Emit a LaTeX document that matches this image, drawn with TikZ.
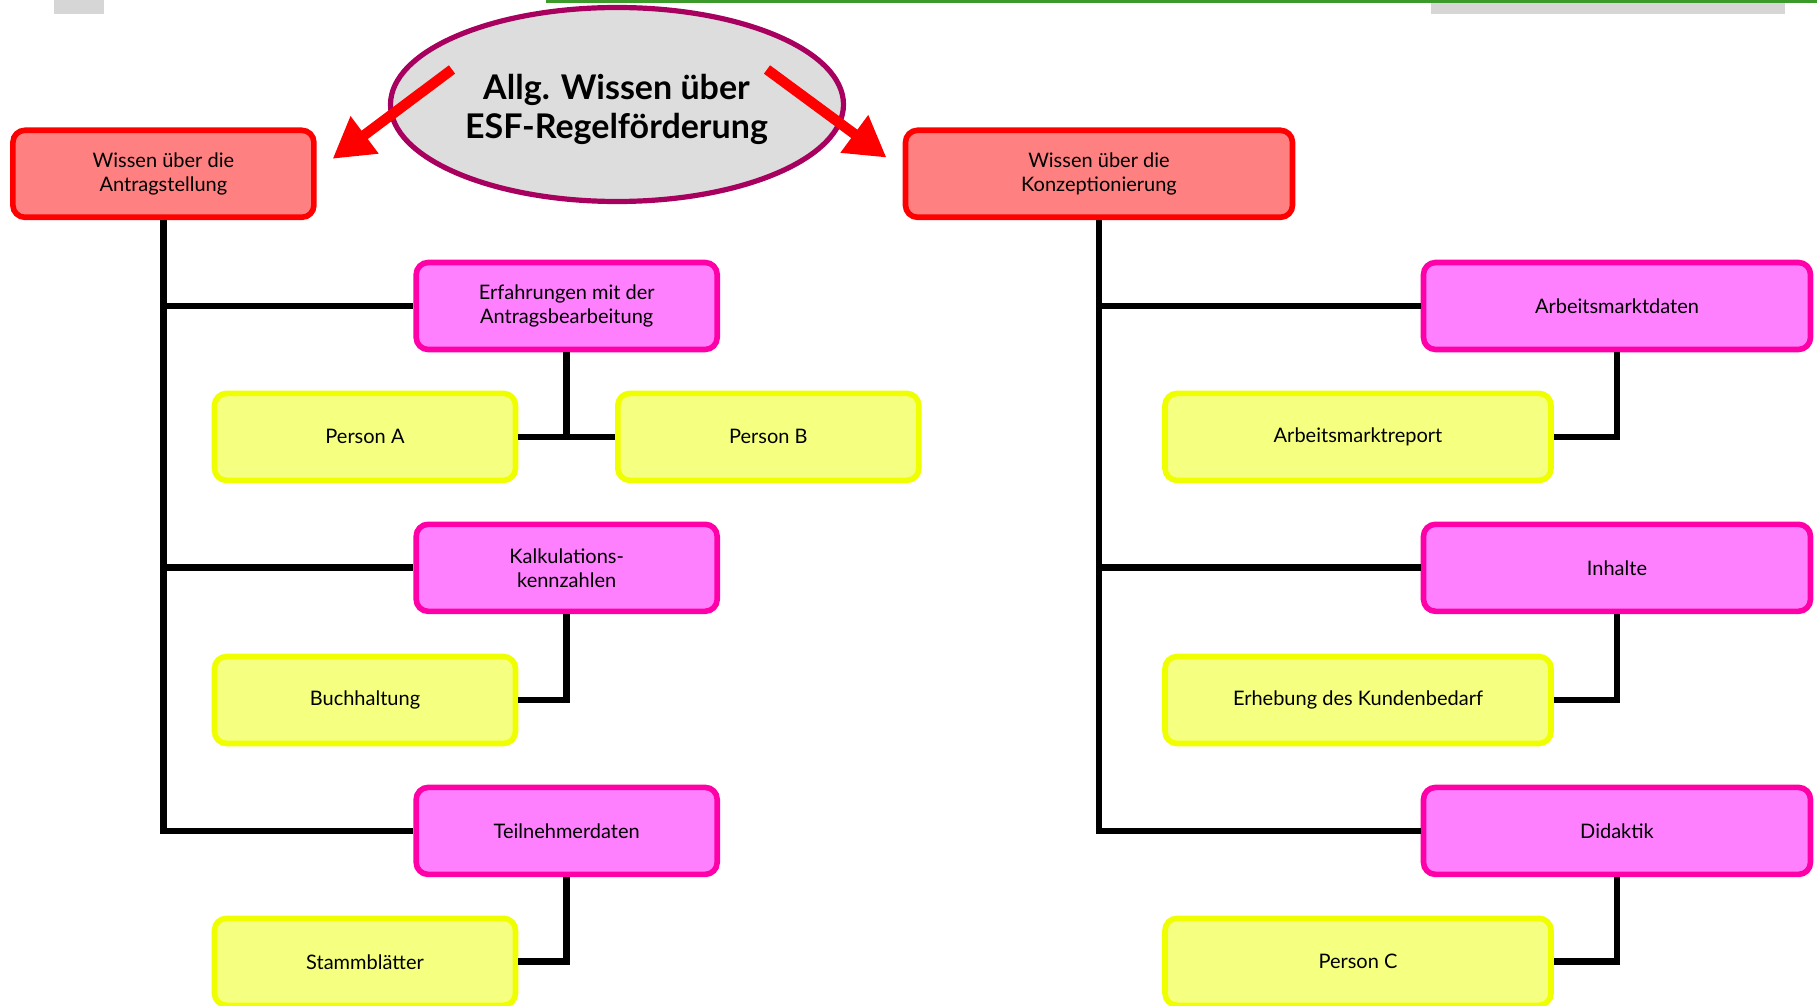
\documentclass[tikz,border=0pt]{standalone}
\usepackage{fontspec}
\setmainfont{Lato}
\usetikzlibrary{arrows.meta,shapes.geometric}
\definecolor{redF}{HTML}{FF8080}
\definecolor{redB}{HTML}{FF0000}
\definecolor{magF}{HTML}{FF80FF}
\definecolor{magB}{HTML}{FF00A8}
\definecolor{yelF}{HTML}{F5FF80}
\definecolor{yelB}{HTML}{F0FF00}
\definecolor{ellF}{HTML}{DDDDDD}
\definecolor{ellB}{HTML}{A8005E}
\definecolor{topgreen}{HTML}{3C9A2A}
\definecolor{topgrey}{HTML}{D6D6D6}
\tikzset{
  box/.style={draw, rounded corners=6pt, line width=2.8pt, align=center,
    font=\fontsize{10}{12}\selectfont, inner sep=2pt, minimum height=43.5pt},
  redbox/.style={box, draw=redB, fill=redF},
  magbox/.style={box, draw=magB, fill=magF},
  yelbox/.style={box, draw=yelB, fill=yelF},
  conn/.style={line width=3.4pt, black},
  bigarrow/.style={line width=5.2pt, redB, -{Triangle[length=20pt,width=22pt]}},
}
\begin{document}
\begin{tikzpicture}[x=0.5pt,y=-0.5pt]
\useasboundingbox (0,0) rectangle (1817,1006);
% top decorations
\fill[topgrey] (54,0) rectangle (104,14);
\fill[topgreen] (546,0) rectangle (1817,3);
\fill[topgrey] (1431,3) rectangle (1785,14);

% central ellipse
\node[ellipse, draw=ellB, fill=ellF, line width=2.6pt, minimum width=226.5pt, minimum height=97pt] (top) at (617,104.5) {};
\node[align=center, font=\fontsize{17}{19.5}\selectfont\bfseries, inner sep=0pt] (toptext) at (616.5,109.5) {Allg. Wissen über\\ESF-Regelförderung};

% level 1
\node[redbox, minimum width=150.5pt] (rl) at (163.4,173.8) {Wissen über die\\Antragstellung};
\node[redbox, minimum width=193.5pt] (rr) at (1099,173.8) {Wissen über die\\Konzeptionierung};

% arrows
\coordinate (als) at (452,69.5);
\coordinate (ale) at (332.6,158.8);
\coordinate (ars) at (767,69.5);
\coordinate (are) at (886.5,157.6);
\draw[bigarrow] (als) -- (ale);
\draw[bigarrow] (ars) -- (are);

% left magenta
\node[magbox, minimum width=150.5pt] (m1) at (566.7,306) {Erfahrungen mit der\\Antragsbearbeitung};
\node[magbox, minimum width=150.5pt] (m2) at (566.7,567.8) {Kalkulations-\\kennzahlen};
\node[magbox, minimum width=150.5pt] (m3) at (566.7,830.9) {Teilnehmerdaten};
% left yellow
\node[yelbox, minimum width=150.5pt] (pa) at (365,436.9) {Person A};
\node[yelbox, minimum width=150.5pt] (pb) at (768.3,436.9) {Person B};
\node[yelbox, minimum width=150.5pt] (bu) at (365,700) {Buchhaltung};
\node[yelbox, minimum width=150.5pt] (st) at (365,961.8) {Stammblätter};

% right magenta
\node[magbox, minimum width=193.5pt] (n1) at (1617,306) {Arbeitsmarktdaten};
\node[magbox, minimum width=193.5pt] (n2) at (1617,567.8) {Inhalte};
\node[magbox, minimum width=193.5pt] (n3) at (1617,830.9) {Didaktik};
% right yellow
\node[yelbox, minimum width=193pt] (ar) at (1358,436.9) {Arbeitsmarktreport};
\node[yelbox, minimum width=193pt] (ek) at (1358,700) {Erhebung des Kundenbedarf};
\node[yelbox, minimum width=193pt] (pc) at (1358,961.8) {Person C};

% left connectors
\draw[conn] (rl.south) |- (m3.west);
\draw[conn] (rl.south |- m1.west) -- (m1.west);
\draw[conn] (rl.south |- m2.west) -- (m2.west);
\draw[conn] (m1.south) |- (pa.east);
\draw[conn] (m1.south |- pb.west) -- (pb.west);
\draw[conn] (m2.south) |- (bu.east);
\draw[conn] (m3.south) |- (st.east);

% right connectors
\draw[conn] (rr.south) |- (n3.west);
\draw[conn] (rr.south |- n1.west) -- (n1.west);
\draw[conn] (rr.south |- n2.west) -- (n2.west);
\draw[conn] (n1.south) |- (ar.east);
\draw[conn] (n2.south) |- (ek.east);
\draw[conn] (n3.south) |- (pc.east);
\end{tikzpicture}
\end{document}
